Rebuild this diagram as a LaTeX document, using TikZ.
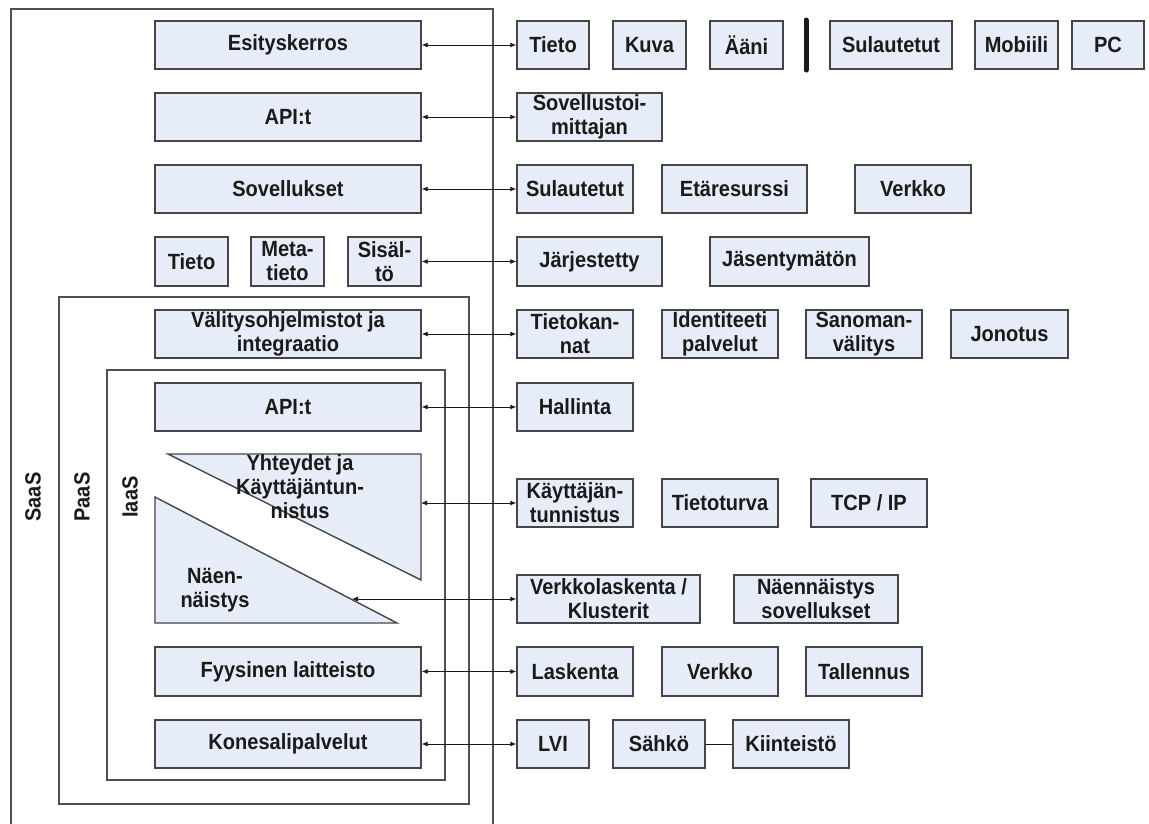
\documentclass[tikz,border=0pt]{standalone}
\usepackage{fontspec}
\setmainfont{Liberation Sans}
\newfontfamily\boxfont[FakeStretch=0.91]{Liberation Sans}
\usetikzlibrary{arrows.meta}

\definecolor{boxfill}{HTML}{E7EDF8}
\definecolor{boxline}{HTML}{454545}
\definecolor{frameline}{HTML}{505050}
\definecolor{ink}{HTML}{1A1A1A}

\tikzset{
  layer/.style={draw=boxline, fill=boxfill, line width=1.4pt, inner sep=0pt,
    align=center, text=ink, font=\boxfont\bfseries\fontsize{22}{24}\selectfont},
  item/.style={layer},
  shade/.style={draw=boxline, fill=boxfill, line width=1.4pt},
  frame/.style={draw=frameline, line width=1.3pt},
  conn/.style={<->, >={Latex[length=6pt,width=5pt]}, line width=0.9pt, draw=ink},
  tag/.style={rotate=90, text=ink, font=\boxfont\bfseries\fontsize{22}{24}\selectfont},
  label/.style={text=ink, align=center, font=\boxfont\bfseries\fontsize{22}{24}\selectfont}
}

% box given by its corners: [style]{name}{x1}{y1}{x2}{y2}{text}
\newcommand\boxat[7][layer]{%
  \node[#1, minimum width={(#5-#3)*1pt}, minimum height={(#6-#4)*1pt}]
    (#2) at ({(#3+#5)/2},{(#4+#6)/2}) {#7};}

\begin{document}
\begin{tikzpicture}[x=1pt, y=-1pt]
  \clip (0,0) rectangle (1149,823);
  \fill[white] (0,0) rectangle (1149,823);

  % nested service layers
  \draw[frame] (11,840) -- (11,9) -- (493,9) -- (493,840);
  \draw[frame] (59,297) rectangle (469,804);
  \draw[frame] (107,370) rectangle (445,780);
  \node[tag] (saas) at (33,497) {SaaS};
  \node[tag] (paas) at (82,497) {PaaS};
  \node[tag] (iaas) at (130,497) {IaaS};

  % stack on the left
  \boxat{esit}{155}{21}{421}{69}{Esityskerros}
  \boxat{api1}{155}{93}{421}{141}{API:t}
  \boxat{sov}{155}{165}{421}{213}{Sovellukset}
  \boxat{tieto}{155}{237}{228}{286}{Tieto}
  \boxat{meta}{251}{237}{324}{286}{Meta-\\tieto}
  \boxat{sis}{348}{237}{421}{286}{Sisäl-\\tö}
  \boxat{valit}{155}{310}{421}{358}{Välitysohjelmistot ja\\integraatio}
  \boxat{api2}{155}{383}{421}{431}{API:t}

  % connectivity and virtualisation wedges
  \filldraw[shade] (168,454) -- (421,454) -- (421,580) -- cycle;
  \filldraw[shade] (155,497) -- (155,623) -- (397,623) -- cycle;
  \node[label] (yht) at (300,487) {Yhteydet ja\\Käyttäjäntun-\\nistus};
  \node[label] (nae) at (215,590) {Näen-\\näistys};
  \coordinate (yht-e) at (421,503);
  \coordinate (nae-e) at (352,599);

  \boxat{fyys}{155}{647}{421}{696}{Fyysinen laitteisto}
  \boxat{kone}{155}{720}{421}{768}{Konesalipalvelut}

  % examples on the right
  \boxat[item]{r1a}{517}{21}{589}{69}{Tieto}
  \boxat[item]{r1b}{613}{21}{686}{69}{Kuva}
  \boxat[item]{r1c}{710}{21}{783}{69}{Ääni}
  \draw[ink, line width=5pt, line cap=round] (806,20) -- (806,70);
  \boxat[item]{r1d}{830}{21}{952}{69}{Sulautetut}
  \boxat[item]{r1e}{975}{21}{1058}{69}{Mobiili}
  \boxat[item]{r1f}{1072}{21}{1144}{69}{PC}

  \boxat[item]{r2a}{517}{93}{662}{141}{Sovellustoi-\\mittajan}

  \boxat[item]{r3a}{517}{165}{633}{213}{Sulautetut}
  \boxat[item]{r3b}{662}{165}{807}{213}{Etäresurssi}
  \boxat[item]{r3c}{855}{165}{971}{213}{Verkko}

  \boxat[item]{r4a}{517}{237}{662}{286}{Järjestetty}
  \boxat[item]{r4b}{710}{237}{869}{286}{Jäsentymätön}

  \boxat[item]{r5a}{517}{310}{633}{358}{Tietokan-\\nat}
  \boxat[item]{r5b}{662}{310}{778}{358}{Identiteeti\\palvelut}
  \boxat[item]{r5c}{806}{310}{922}{358}{Sanoman-\\välitys}
  \boxat[item]{r5d}{951}{310}{1068}{358}{Jonotus}

  \boxat[item]{r6a}{517}{383}{633}{431}{Hallinta}

  \boxat[item]{r7a}{517}{479}{633}{527}{Käyttäjän-\\tunnistus}
  \boxat[item]{r7b}{662}{479}{778}{527}{Tietoturva}
  \boxat[item]{r7c}{811}{479}{927}{527}{TCP / IP}

  \boxat[item]{r8a}{517}{575}{700}{623}{Verkkolaskenta /\\Klusterit}
  \boxat[item]{r8b}{734}{575}{898}{623}{Näennäistys\\sovellukset}

  \boxat[item]{r9a}{517}{647}{633}{696}{Laskenta}
  \boxat[item]{r9b}{662}{647}{778}{696}{Verkko}
  \boxat[item]{r9c}{806}{647}{922}{696}{Tallennus}

  \boxat[item]{r10a}{517}{720}{589}{768}{LVI}
  \boxat[item]{r10b}{613}{720}{705}{768}{Sähkö}
  \boxat[item]{r10c}{733}{720}{849}{768}{Kiinteistö}

  % connectors
  \draw[conn] (esit.east) -- (r1a.west);
  \draw[conn] (api1.east) -- (r2a.west);
  \draw[conn] (sov.east) -- (r3a.west);
  \draw[conn] (sis.east) -- (r4a.west);
  \draw[conn] (valit.east) -- (r5a.west);
  \draw[conn] (api2.east) -- (r6a.west);
  \draw[conn] (yht-e) -- (r7a.west);
  \draw[conn] (nae-e) -- (r8a.west);
  \draw[conn] (fyys.east) -- (r9a.west);
  \draw[conn] (kone.east) -- (r10a.west);
  \draw[ink, line width=0.9pt] (r10b.east) -- (r10c.west);
\end{tikzpicture}
\end{document}
